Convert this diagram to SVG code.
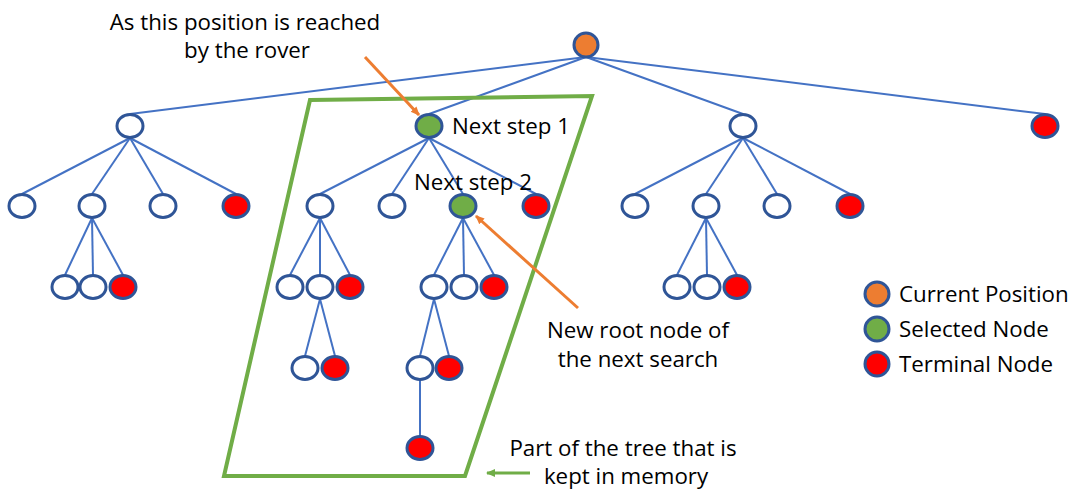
<svg xmlns="http://www.w3.org/2000/svg" width="1072" height="491" viewBox="0 0 1072 491">
<defs>
<marker id="ao" markerWidth="10" markerHeight="10" refX="8" refY="5" orient="auto" markerUnits="userSpaceOnUse"><path d="M0,1 L9,5 L0,9 Z" fill="#ED7D31"/></marker>
<marker id="ag" markerWidth="10" markerHeight="10" refX="8" refY="5" orient="auto" markerUnits="userSpaceOnUse"><path d="M0,1 L9,5 L0,9 Z" fill="#70AD47"/></marker>
</defs>
<style>
.n{stroke:#2F5597;stroke-width:3;fill:#fff}
.t{fill:#FF0000}
.g{fill:#70AD47}
.o{fill:#ED7D31}
.e line{stroke:#4472C4;stroke-width:2}
text{font-family:"Open Sans","Noto Sans",sans-serif;font-size:22.3px;fill:#000}
</style>
<rect width="1072" height="491" fill="#fff"/>
<g id="connectors" class="e">
<line x1="586" y1="57" x2="130" y2="114"/>
<line x1="586" y1="57" x2="429" y2="114"/>
<line x1="586" y1="57" x2="743" y2="114"/>
<line x1="586" y1="57" x2="1045" y2="114"/>
<line x1="130" y1="138" x2="22" y2="194"/>
<line x1="130" y1="138" x2="92" y2="194"/>
<line x1="130" y1="138" x2="163" y2="194"/>
<line x1="130" y1="138" x2="236" y2="194"/>
<line x1="92" y1="218" x2="65" y2="275"/>
<line x1="92" y1="218" x2="93" y2="275"/>
<line x1="92" y1="218" x2="123" y2="275"/>
<line x1="429" y1="138" x2="320" y2="194"/>
<line x1="429" y1="138" x2="392" y2="194"/>
<line x1="429" y1="138" x2="463" y2="194"/>
<line x1="429" y1="138" x2="536" y2="194"/>
<line x1="320" y1="218" x2="290" y2="275"/>
<line x1="320" y1="218" x2="320" y2="275"/>
<line x1="320" y1="218" x2="350" y2="275"/>
<line x1="320" y1="299" x2="305" y2="356"/>
<line x1="320" y1="299" x2="335" y2="356"/>
<line x1="463" y1="218" x2="434" y2="275"/>
<line x1="463" y1="218" x2="464" y2="275"/>
<line x1="463" y1="218" x2="494" y2="275"/>
<line x1="434" y1="299" x2="420" y2="356"/>
<line x1="434" y1="299" x2="449" y2="356"/>
<line x1="420" y1="380" x2="420" y2="436"/>
<line x1="743" y1="138" x2="635" y2="194"/>
<line x1="743" y1="138" x2="706" y2="194"/>
<line x1="743" y1="138" x2="777" y2="194"/>
<line x1="743" y1="138" x2="850" y2="194"/>
<line x1="706" y1="218" x2="677" y2="275"/>
<line x1="706" y1="218" x2="707" y2="275"/>
<line x1="706" y1="218" x2="737" y2="275"/>
</g>
<g id="memory-region">
<polygon points="310,100 592,96 465,476 224,476" fill="none" stroke="#70AD47" stroke-width="4"/>
</g>
<g id="annotations">
<line x1="365" y1="57" x2="419" y2="115" stroke="#ED7D31" stroke-width="3" marker-end="url(#ao)"/>
<line x1="578" y1="308" x2="476" y2="216" stroke="#ED7D31" stroke-width="3" marker-end="url(#ao)"/>
<line x1="530" y1="473" x2="487" y2="473" stroke="#70AD47" stroke-width="3" marker-end="url(#ag)"/>
<text x="245" y="30" text-anchor="middle">As this position is reached</text>
<text x="247" y="58" text-anchor="middle">by the rover</text>
<text x="638" y="338" text-anchor="middle">New root node of</text>
<text x="638" y="367" text-anchor="middle">the next search</text>
<text x="623" y="456" text-anchor="middle">Part of the tree that is</text>
<text x="626" y="484" text-anchor="middle">kept in memory</text>
</g>
<g id="root"><ellipse class="n o" cx="586" cy="45" rx="12" ry="12"/></g>
<g id="a"><ellipse class="n" cx="130" cy="126" rx="13" ry="11.5"/></g>
<g id="b"><ellipse class="n g" cx="429" cy="126" rx="13" ry="11.5"/><text x="452" y="134">Next step 1</text></g>
<g id="c"><ellipse class="n" cx="743" cy="126" rx="13" ry="11.5"/></g>
<g id="d"><ellipse class="n t" cx="1045" cy="126" rx="13" ry="11.5"/></g>
<g id="a1"><ellipse class="n" cx="22" cy="206" rx="13" ry="11.5"/></g>
<g id="a2"><ellipse class="n" cx="92" cy="206" rx="13" ry="11.5"/></g>
<g id="a3"><ellipse class="n" cx="163" cy="206" rx="13" ry="11.5"/></g>
<g id="a4"><ellipse class="n t" cx="236" cy="206" rx="13" ry="11.5"/></g>
<g id="a21"><ellipse class="n" cx="65" cy="287" rx="13" ry="11.5"/></g>
<g id="a22"><ellipse class="n" cx="93" cy="287" rx="13" ry="11.5"/></g>
<g id="a23"><ellipse class="n t" cx="123" cy="287" rx="13" ry="11.5"/></g>
<g id="b1"><ellipse class="n" cx="320" cy="206" rx="13" ry="11.5"/></g>
<g id="b2"><ellipse class="n" cx="392" cy="206" rx="13" ry="11.5"/></g>
<g id="b3"><ellipse class="n g" cx="463" cy="206" rx="13" ry="11.5"/><text x="414" y="190">Next step 2</text></g>
<g id="b4"><ellipse class="n t" cx="536" cy="206" rx="13" ry="11.5"/></g>
<g id="b11"><ellipse class="n" cx="290" cy="287" rx="13" ry="11.5"/></g>
<g id="b12"><ellipse class="n" cx="320" cy="287" rx="13" ry="11.5"/></g>
<g id="b13"><ellipse class="n t" cx="350" cy="287" rx="13" ry="11.5"/></g>
<g id="b121"><ellipse class="n" cx="305" cy="368" rx="13" ry="11.5"/></g>
<g id="b122"><ellipse class="n t" cx="335" cy="368" rx="13" ry="11.5"/></g>
<g id="b31"><ellipse class="n" cx="434" cy="287" rx="13" ry="11.5"/></g>
<g id="b32"><ellipse class="n" cx="464" cy="287" rx="13" ry="11.5"/></g>
<g id="b33"><ellipse class="n t" cx="494" cy="287" rx="13" ry="11.5"/></g>
<g id="b311"><ellipse class="n" cx="420" cy="368" rx="13" ry="11.5"/></g>
<g id="b312"><ellipse class="n t" cx="449" cy="368" rx="13" ry="11.5"/></g>
<g id="b3111"><ellipse class="n t" cx="420" cy="448" rx="13" ry="11.5"/></g>
<g id="c1"><ellipse class="n" cx="635" cy="206" rx="13" ry="11.5"/></g>
<g id="c2"><ellipse class="n" cx="706" cy="206" rx="13" ry="11.5"/></g>
<g id="c3"><ellipse class="n" cx="777" cy="206" rx="13" ry="11.5"/></g>
<g id="c4"><ellipse class="n t" cx="850" cy="206" rx="13" ry="11.5"/></g>
<g id="c21"><ellipse class="n" cx="677" cy="287" rx="13" ry="11.5"/></g>
<g id="c22"><ellipse class="n" cx="707" cy="287" rx="13" ry="11.5"/></g>
<g id="c23"><ellipse class="n t" cx="737" cy="287" rx="13" ry="11.5"/></g>
<g id="legend">
<ellipse class="n o" cx="877" cy="294" rx="12" ry="12"/><text x="899" y="302">Current Position</text>
<ellipse class="n g" cx="877" cy="329" rx="12" ry="12"/><text x="899" y="337">Selected Node</text>
<ellipse class="n t" cx="877" cy="364" rx="12" ry="12"/><text x="899" y="372">Terminal Node</text>
</g>
</svg>
